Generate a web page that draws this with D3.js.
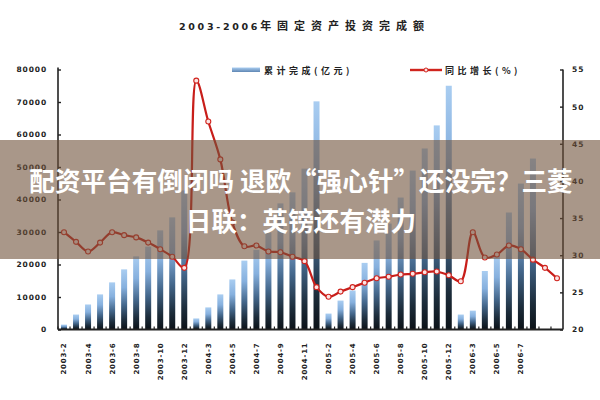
<!DOCTYPE html>
<html><head><meta charset="utf-8">
<script src="https://cdn.jsdelivr.net/npm/d3@7"></script>
<style>body{margin:0;background:#fff}svg{display:block}</style>
</head><body><svg id="c" width="600" height="400"></svg>
<script>
const years = ["2003","2004","2005","2006"];
const categories = [
  "2003-2","2003-3","2003-4","2003-5","2003-6","2003-7","2003-8","2003-9","2003-10","2003-11","2003-12",
  "2004-2","2004-3","2004-4","2004-5","2004-6","2004-7","2004-8","2004-9","2004-10","2004-11","2004-12",
  "2005-2","2005-3","2005-4","2005-5","2005-6","2005-7","2005-8","2005-9","2005-10","2005-11","2005-12",
  "2006-2","2006-3","2006-4","2006-5","2006-6","2006-7","2006-8","2006-9","2006-10"];
const cumulative = [
  1500,4600,7700,10800,14500,18500,22500,25500,30500,34500,42800,
  3400,6800,10800,15400,21200,24500,29900,38800,42200,49500,70200,
  4900,8900,12000,20500,27400,32600,40600,48900,55700,62800,75000,
  4600,5800,18000,23000,36000,44900,52600,null,null];
const growth = [
  33.1,31.8,30.5,31.7,33.1,32.7,32.4,31.7,30.8,29.8,28.3,
  53.5,48.0,42.9,34.4,31.2,31.3,30.5,30.4,29.8,29.2,25.7,
  24.4,25.1,25.7,26.3,26.9,27.1,27.4,27.5,27.7,27.8,27.3,
  26.5,33.1,29.7,30.1,31.3,30.8,29.4,28.3,26.9];
const leftTicks = [0,10000,20000,30000,40000,50000,60000,70000,80000];
const rightTicks = [20,25,30,35,40,45,50,55];
const titleNum = "2003-2006";
const titleText = "年固定资产投资完成额";
const legendBar = "累计完成(亿元)";
const legendLine = "同比增长(%)";
const bannerLines = ["配资平台有倒闭吗 退欧“强心针”还没完？三菱","日联：英镑还有潜力"];

const svg = d3.select("#c");
const L = 58, R = 563, B = 329.5, T = 69.5;
const x = d3.scaleBand().domain(categories).range([L, R]).padding(0);
const yL = d3.scaleLinear().domain([0, 80000]).range([B, T]);
const yR = d3.scaleLinear().domain([20, 55]).range([B, T]);

const defs = svg.append("defs");
const g = defs.append("linearGradient").attr("id","barg").attr("x1",0).attr("y1",0).attr("x2",0).attr("y2",1);
[[0,"#a9cdf1"],[0.3,"#86b0de"],[0.6,"#43668a"],[0.85,"#1c2c3a"],[1,"#0c1218"]].forEach(s=>g.append("stop").attr("offset",s[0]).attr("stop-color",s[1]));
const lg = defs.append("linearGradient").attr("id","legg").attr("x1",0).attr("y1",0).attr("x2",0).attr("y2",1);
[[0,"#a9cdf1"],[1,"#5f86b3"]].forEach(s=>lg.append("stop").attr("offset",s[0]).attr("stop-color",s[1]));

// title
const tt = svg.append("text").attr("x",179).attr("y",30).attr("font-family","DejaVu Sans, Noto Sans CJK SC").attr("font-weight","bold").attr("fill","#222");
tt.append("tspan").attr("font-size",9.5).attr("letter-spacing",2.7).text(titleNum);
tt.append("tspan").attr("font-family","Noto Sans CJK SC").attr("font-size",11).attr("letter-spacing",6).text(titleText);

// bars
const bw = 6;
svg.append("g").selectAll("rect").data(categories.map((c,i)=>({c,v:cumulative[i]})).filter(d=>d.v!=null))
  .join("rect")
  .attr("x", d=>x(d.c)+x.bandwidth()/2-bw/2)
  .attr("y", d=>yL(d.v))
  .attr("width", bw)
  .attr("height", d=>yL(0)-yL(d.v))
  .attr("fill","url(#barg)");

// line
const pts = categories.map((c,i)=>({c,v:growth[i]}));
const line = d3.line().x(d=>x(d.c)+x.bandwidth()/2).y(d=>yR(d.v)).curve(d3.curveCatmullRom.alpha(0.5));
svg.append("path").datum(pts).attr("d",line).attr("fill","none").attr("stroke","#c81e1a").attr("stroke-width",2.2);
svg.append("g").selectAll("circle").data(pts).join("circle")
  .attr("cx",d=>x(d.c)+x.bandwidth()/2).attr("cy",d=>yR(d.v)).attr("r",2.5)
  .attr("fill","#fbe3e3").attr("stroke","#d0241e").attr("stroke-width",1.1);

// axes
const fontAx = "DejaVu Sans";
const ga = svg.append("g").attr("transform",`translate(${L},0)`)
  .call(d3.axisLeft(yL).tickValues(leftTicks).tickSize(-3).tickPadding(11).tickFormat(d3.format("d")));
const gr = svg.append("g").attr("transform",`translate(${R},0)`)
  .call(d3.axisRight(yR).tickValues(rightTicks).tickSize(-3).tickPadding(9).tickFormat(d3.format("d")));
[ga,gr].forEach(a=>{
  a.select(".domain").attr("stroke","#222").attr("stroke-width",1.6).attr("d", a===ga?`M0,${B}V${T-2}`:`M0,${B}V${T}`);
  a.selectAll(".tick line").attr("stroke","#222").attr("stroke-width",1.4);
  a.selectAll(".tick text").attr("font-family",fontAx).attr("font-size",7.5).attr("font-weight","bold").attr("fill","#222").attr("letter-spacing",a===ga?0.9:1);
});

// bottom axis
const shown = categories.filter((c,i)=>i%2===0 && cumulative[i]!=null);
const gb = svg.append("g").attr("transform",`translate(0,${B})`)
  .call(d3.axisBottom(x).tickValues(shown).tickSize(0).tickPadding(0));
gb.select(".domain").remove();
gb.selectAll(".tick text").attr("font-family",fontAx).attr("font-size",7).attr("font-weight","bold").attr("fill","#222")
  .attr("transform","rotate(-90)").attr("text-anchor","end").attr("dy","0.35em").attr("x",-13).attr("y",0).attr("letter-spacing",0.8);
svg.append("line").attr("x1",L).attr("x2",R).attr("y1",B).attr("y2",B).attr("stroke","#222").attr("stroke-width",2);
svg.append("g").selectAll("line").data(categories).join("line")
  .attr("x1",d=>x(d)).attr("x2",d=>x(d)).attr("y1",B).attr("y2",B-3).attr("stroke","#222").attr("stroke-width",1.2);

// legend
svg.append("rect").attr("x",232).attr("y",67.5).attr("width",28).attr("height",4.5).attr("fill","url(#legg)");
svg.append("text").attr("x",264).attr("y",74).attr("font-family","Noto Sans CJK SC").attr("font-size",9).attr("font-weight","bold").attr("letter-spacing",3.5).attr("fill","#222").text(legendBar);
svg.append("line").attr("x1",410).attr("x2",442).attr("y1",70).attr("y2",70).attr("stroke","#d0241e").attr("stroke-width",2.4);
svg.append("circle").attr("cx",426).attr("cy",70).attr("r",2).attr("fill","#fbe3e3").attr("stroke","#d0241e").attr("stroke-width",1);
svg.append("text").attr("x",445).attr("y",74).attr("font-family","Noto Sans CJK SC").attr("font-size",9).attr("font-weight","bold").attr("letter-spacing",3.5).attr("fill","#222").text(legendLine);

// banner overlay
svg.append("rect").attr("x",0).attr("y",140).attr("width",600).attr("height",119).attr("fill","rgb(112,82,58)").attr("fill-opacity",0.6);
svg.append("g").selectAll("text").data(bannerLines).join("text")
  .attr("x",301).attr("y",(d,i)=>191+i*40).attr("text-anchor","middle")
  .attr("font-family","Noto Sans CJK SC").attr("font-size",25.6).attr("font-weight","bold").attr("fill","#fff").text(d=>d);
</script></body></html>
